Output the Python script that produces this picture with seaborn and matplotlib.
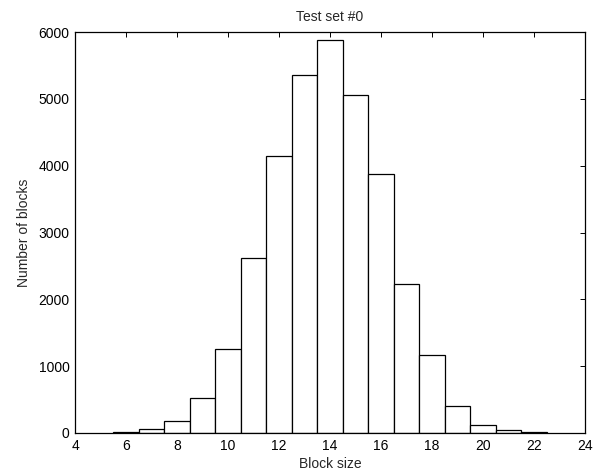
import numpy as np
import pandas as pd
import seaborn as sns
import matplotlib
matplotlib.use("Agg")
import matplotlib.pyplot as plt

# block sizes and how many blocks of each size
block_size = [6, 7, 8, 9, 10, 11, 12, 13, 14, 15, 16, 17, 18, 19, 20, 21, 22]
n_blocks = [20, 55, 178, 530, 1262, 2618, 4148, 5356, 5884, 5057, 3870, 2229, 1172, 404, 127, 40, 18]

df = pd.DataFrame({"size": block_size, "count": n_blocks})

sns.set_style("white")
plt.rcParams["font.family"] = ["Liberation Sans", "DejaVu Sans"]
plt.rcParams["font.size"] = 10

fig = plt.figure(figsize=(6.03, 4.75), dpi=100)
ax = fig.add_axes([75 / 603, 1 - 433 / 475, 510 / 603, 401 / 475])

sns.histplot(data=df, x="size", weights="count", discrete=True,
             color="white", edgecolor="black", linewidth=0.9, alpha=1, ax=ax)

ax.set_xlim(4, 24)
ax.set_ylim(0, 6000)
ax.set_xticks(np.arange(4, 25, 2))
ax.set_yticks(np.arange(0, 6001, 1000))
ax.tick_params(direction="in", length=3.5, width=0.7, top=True, right=True,
               labelsize=10, colors="black", pad=4)
for s in ax.spines.values():
    s.set_visible(True)
    s.set_color("black")
    s.set_linewidth(0.9)

ax.set_title("Test set #0", fontsize=10, pad=8)
ax.set_xlabel("Block size", fontsize=10, labelpad=3)
ax.set_ylabel("Number of blocks", fontsize=10, labelpad=5)

fig.savefig("out.png", dpi=100)
